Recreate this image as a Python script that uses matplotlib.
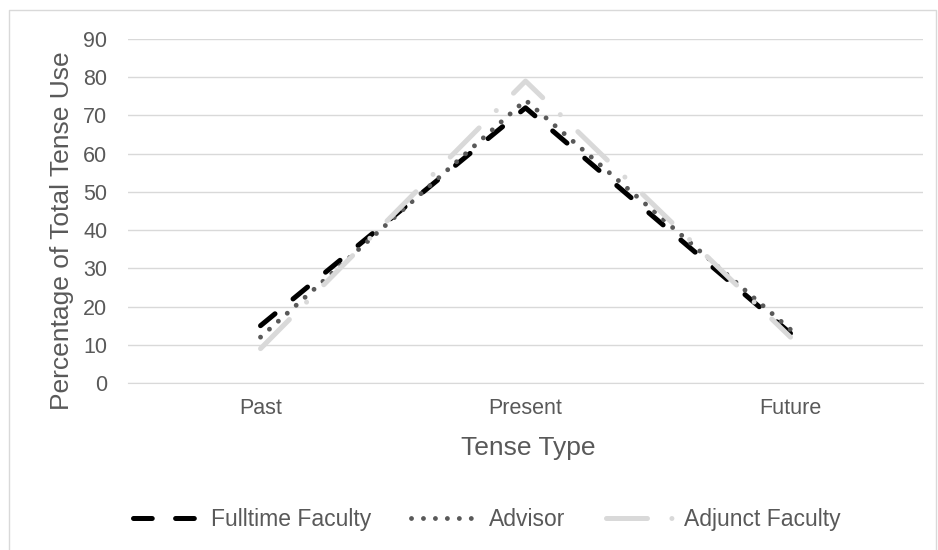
import matplotlib
matplotlib.use("Agg")
import matplotlib.pyplot as plt
from matplotlib.lines import Line2D

# data
categories = ["Past", "Present", "Future"]
fulltime = [15, 72, 13]
advisor = [12, 74, 14]
adjunct = [9, 79, 12]

plt.rcParams['font.family'] = ['Liberation Sans', 'DejaVu Sans']
plt.rcParams['lines.scale_dashes'] = False

txt = '#595959'
grid = '#d9d9d9'

fig = plt.figure(figsize=(9.38, 5.5), dpi=100)
ax = fig.add_axes([0.1365, 0.3036, 0.8475, 0.6255])

x = range(len(categories))
ax.plot(x, fulltime, color='black', lw=3.6, dashes=(13.5, 16.8),
        dash_capstyle='round', label='Fulltime Faculty', zorder=3)
ax.plot(x, advisor, color='#595959', lw=3.5, dashes=(0.01, 8.6),
        dash_capstyle='round', label='Advisor', zorder=4)
ax.plot(x, adjunct, color='#d9d9d9', lw=3.6, dashes=(29.5, 17.6, 0.01, 17.6),
        dash_capstyle='round', label='Adjunct Faculty', zorder=5)

ax.set_xlim(-0.5, 2.5)
ax.set_ylim(0, 90)
ax.set_yticks(range(0, 91, 10))
ax.set_xticks(list(x))
ax.set_xticklabels(categories)
ax.yaxis.grid(True, color=grid, lw=1)
ax.set_axisbelow(True)
for s in ['top', 'right', 'left']:
    ax.spines[s].set_visible(False)
ax.spines['bottom'].set_color(grid)
ax.tick_params(length=0, colors=txt, labelsize=15.5)
ax.tick_params(axis='x', pad=11)
ax.tick_params(axis='y', pad=15)

ax.set_xlabel("Tense Type", fontsize=19, color=txt)
ax.xaxis.set_label_coords(0.503, -0.155)
ax.set_ylabel("Percentage of Total Tense Use", fontsize=19, color=txt)
ax.yaxis.set_label_coords(-0.068, 0.442)

leg = fig.legend(loc='center', bbox_to_anchor=(0.519, 0.056), ncol=3, frameon=False,
                 fontsize=16.5, handlelength=2.9, columnspacing=1.75, handletextpad=0.5)
for t in leg.get_texts():
    t.set_color(txt)

# chart area border (left, top, right)
fig.add_artist(Line2D([9/938, 9/938, 936/938, 936/938], [0, 1-10/550, 1-10/550, 0],
                      transform=fig.transFigure, color=grid, lw=1))

fig.savefig("out.png", dpi=100)
